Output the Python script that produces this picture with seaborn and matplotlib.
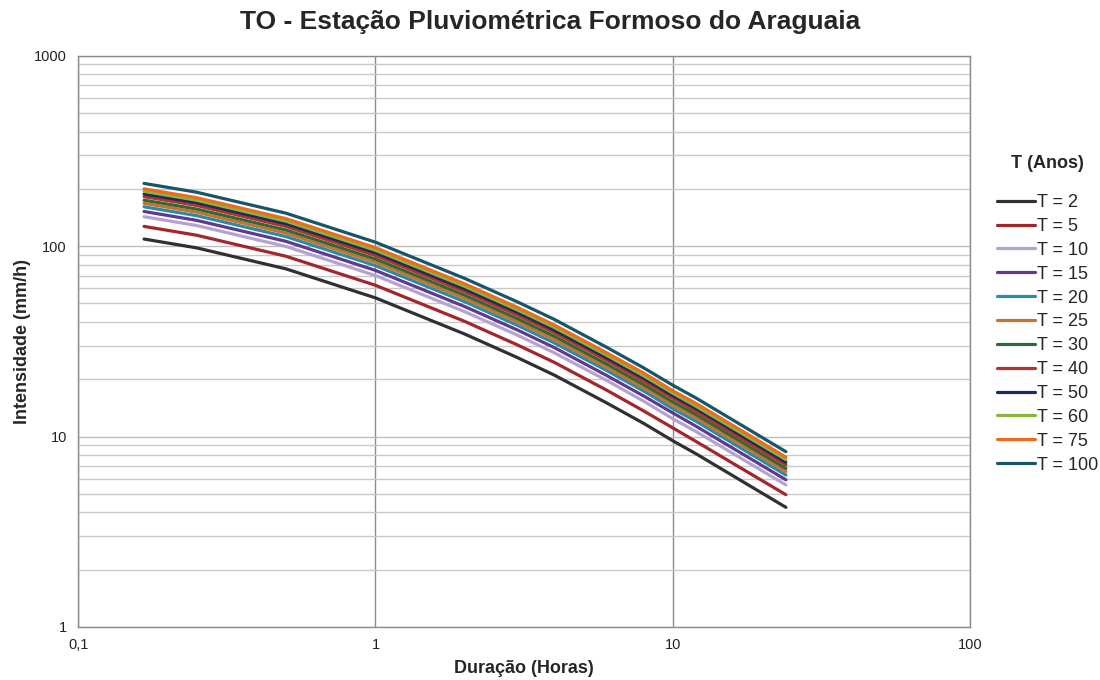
import numpy as np
import pandas as pd
import matplotlib
matplotlib.use("Agg")
import matplotlib.pyplot as plt
import seaborn as sns
from matplotlib.ticker import FixedLocator, LogLocator, NullFormatter, FixedFormatter

# durations in hours (10 min ... 24 h)
durations = [1/6, 0.25, 0.5, 1, 2, 3, 4, 6, 8, 10, 12, 24]
periods = [2, 5, 10, 15, 20, 25, 30, 40, 50, 60, 75, 100]

# intensities (mm/h)
i_t2 = [109.0, 98.0, 76.0, 53.5, 34.5, 26.0, 21.0, 15.0, 11.7, 9.5, 8.1, 4.25]
i_t5 = [127.0, 114.2, 88.5, 62.3, 40.2, 30.3, 24.5, 17.5, 13.6, 11.1, 9.4, 4.95]
i_t10 = [142.8, 128.4, 99.6, 70.1, 45.2, 34.1, 27.5, 19.7, 15.3, 12.4, 10.6, 5.57]
i_t15 = [152.1, 136.7, 106.0, 74.6, 48.1, 36.3, 29.3, 20.9, 16.3, 13.3, 11.3, 5.93]
i_t20 = [161.0, 144.7, 112.3, 79.0, 51.0, 38.4, 31.0, 22.2, 17.3, 14.0, 12.0, 6.28]
i_t25 = [167.9, 150.9, 117.0, 82.4, 53.1, 40.0, 32.3, 23.1, 18.0, 14.6, 12.5, 6.55]
i_t30 = [174.4, 156.8, 121.6, 85.6, 55.2, 41.6, 33.6, 24.0, 18.7, 15.2, 13.0, 6.80]
i_t40 = [182.0, 163.7, 126.9, 89.3, 57.6, 43.4, 35.1, 25.1, 19.5, 15.9, 13.5, 7.10]
i_t50 = [188.0, 169.1, 131.1, 92.3, 59.5, 44.9, 36.2, 25.9, 20.2, 16.4, 14.0, 7.33]
i_t60 = [194.0, 174.4, 135.3, 95.2, 61.4, 46.3, 37.4, 26.7, 20.8, 16.9, 14.4, 7.57]
i_t75 = [200.0, 179.8, 139.5, 98.2, 63.3, 47.7, 38.5, 27.5, 21.5, 17.4, 14.9, 7.80]
i_t100 = [213.6, 192.1, 149.0, 104.9, 67.6, 51.0, 41.2, 29.4, 22.9, 18.6, 15.9, 8.33]

series = [i_t2, i_t5, i_t10, i_t15, i_t20, i_t25, i_t30, i_t40, i_t50, i_t60, i_t75, i_t100]
labels = [f"T = {t}" for t in periods]
colors = ["#303030", "#a3262a", "#b4a3d2", "#5e3a8e", "#2a8aa8", "#c8732d",
          "#2f6a35", "#b5332f", "#1c2a5e", "#8cb33b", "#ec6b1f", "#15566b"]

x_ticks = [0.1, 1, 10, 100]
x_ticklabels = ["0,1", "1", "10", "100"]
y_ticks = [1, 10, 100, 1000]
y_ticklabels = ["1", "10", "100", "1000"]

rows = []
for lab, vals in zip(labels, series):
    for d, v in zip(durations, vals):
        rows.append({"Duração": d, "Intensidade": v, "T": lab})
df = pd.DataFrame(rows)

sns.set_style("white")
plt.rcParams['font.family'] = ['Liberation Sans', 'DejaVu Sans']

fig = plt.figure(figsize=(11, 6.8), dpi=100)
ax = fig.add_axes([0.071, 0.078, 0.811, 0.840])

sns.lineplot(data=df, x="Duração", y="Intensidade", hue="T", hue_order=labels,
             palette=colors, linewidth=2.3, ax=ax, legend=False, sort=True)

ax.set_xscale("log")
ax.set_yscale("log")
ax.set_xlim(0.1, 100)
ax.set_ylim(1, 1000)

ax.xaxis.set_major_locator(FixedLocator(x_ticks))
ax.xaxis.set_major_formatter(FixedFormatter(x_ticklabels))
ax.xaxis.set_minor_locator(FixedLocator([]))
ax.yaxis.set_major_locator(FixedLocator(y_ticks))
ax.yaxis.set_major_formatter(FixedFormatter(y_ticklabels))
ax.yaxis.set_minor_locator(LogLocator(base=10, subs=np.arange(2, 10)))
ax.yaxis.set_minor_formatter(NullFormatter())

ax.grid(True, axis="x", which="major", color="#8c8c8c", linewidth=1.0)
ax.grid(True, axis="y", which="major", color="#bdbdbd", linewidth=1.0)
ax.grid(True, axis="y", which="minor", color="#c8c8c8", linewidth=1.0)
ax.set_axisbelow(True)
ax.tick_params(which="both", length=0, labelsize=10.5, colors="#222222", pad=8)

for s in ax.spines.values():
    s.set_color("#8c8c8c")
    s.set_linewidth(1.0)

ax.set_xlabel("Duração (Horas)", fontsize=13, fontweight="bold", labelpad=6)
ax.set_ylabel("Intensidade (mm/h)", fontsize=13, fontweight="bold", labelpad=2)
fig.suptitle("TO - Estação Pluviométrica Formoso do Araguaia", fontsize=19,
             fontweight="bold", x=0.5, y=0.985)

handles = [plt.Line2D([], [], color=c, linewidth=2.3) for c in colors]
leg = ax.legend(handles, labels, loc="upper left", bbox_to_anchor=(1.012, 0.855),
                frameon=False, fontsize=13, handlelength=2.1, handletextpad=0.1,
                labelspacing=0.38, title="T (Anos)",
                title_fontproperties={"weight": "bold", "size": 13})
leg._legend_box.align = "center"
leg._legend_box.sep = 16

fig.savefig("out.png", dpi=100)
